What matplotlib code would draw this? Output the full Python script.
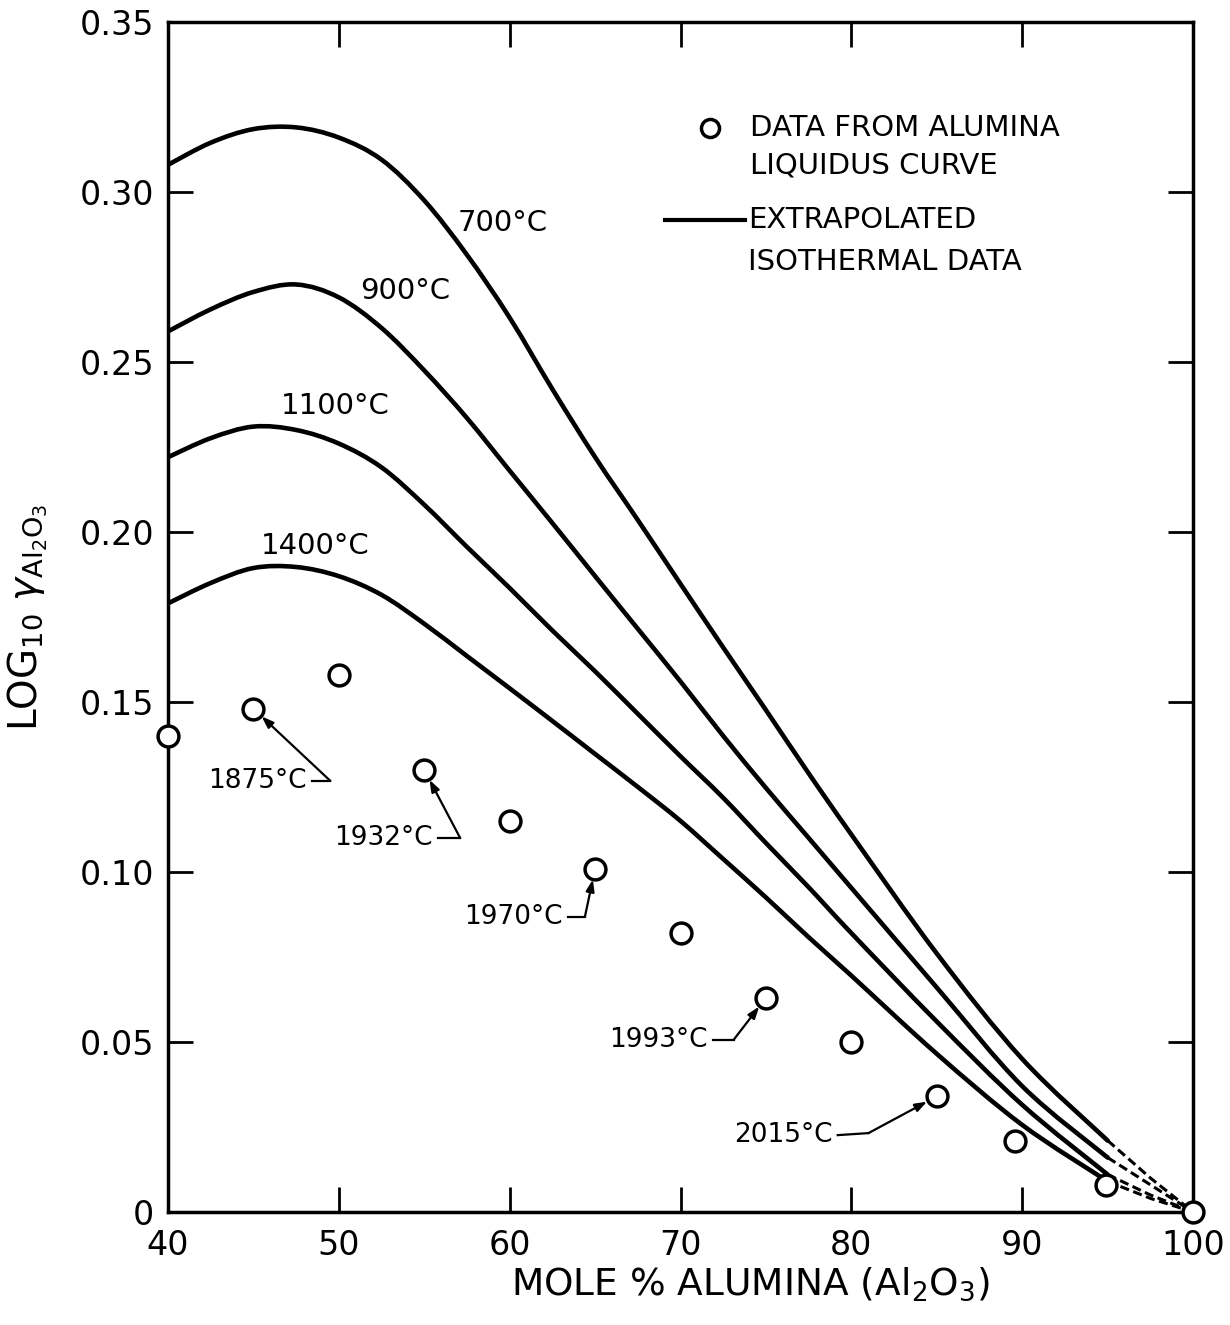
import matplotlib.pyplot as plt
from matplotlib.path import Path
from matplotlib.patches import PathPatch
import numpy as np

# mole % alumina grid for the isotherms
x_curve = [40, 42.5, 45, 47.5, 50, 52.5, 55, 57.5, 60, 62.5, 65, 67.5, 70,
           72.5, 75, 77.5, 80, 85, 90, 95, 97.5, 100]
y_700 = [0.308, 0.3145, 0.3185, 0.319, 0.316, 0.3095, 0.2975, 0.2815, 0.263,
         0.242, 0.222, 0.2035, 0.1847, 0.166, 0.1476, 0.129, 0.111, 0.076,
         0.045, 0.021, 0.010, 0.0]
y_900 = [0.259, 0.2655, 0.2706, 0.2728, 0.2690, 0.2600, 0.2475, 0.2335, 0.218,
         0.2026, 0.187, 0.1715, 0.156, 0.140, 0.1247, 0.110, 0.0953, 0.066,
         0.037, 0.016, 0.008, 0.0]
y_1100 = [0.222, 0.2276, 0.231, 0.230, 0.226, 0.219, 0.208, 0.1956, 0.1835,
          0.171, 0.159, 0.1465, 0.134, 0.1218, 0.1085, 0.0955, 0.082, 0.056,
          0.0315, 0.011, 0.005, 0.0]
y_1400 = [0.179, 0.185, 0.1894, 0.1897, 0.1870, 0.1815, 0.173, 0.1635, 0.154,
          0.1444, 0.1347, 0.125, 0.1150, 0.1038, 0.0925, 0.0808, 0.0695,
          0.0465, 0.0256, 0.009, 0.004, 0.0]
curve_names = ['700°C', '900°C', '1100°C', '1400°C']

# liquidus points
x_pts = [40, 45, 50, 55, 60, 65, 70, 75, 80, 85, 89.6, 94.9, 100]
y_pts = [0.140, 0.148, 0.158, 0.130, 0.115, 0.101, 0.082, 0.063, 0.050,
         0.034, 0.021, 0.008, 0.0]

# liquidus temperatures labelled with arrows (index into the points)
temp_labels = ['1875°C', '1932°C', '1970°C', '1993°C', '2015°C']
temp_idx = [1, 3, 5, 7, 9]


def smooth_path(xs, ys):
    # catmull-rom through the read points, drawn as cubic bezier segments
    p = np.column_stack([xs, ys]).astype(float)
    p_ext = np.vstack([p[0], p, p[-1]])
    verts = [p[0]]
    codes = [Path.MOVETO]
    for i in range(1, len(p_ext) - 2):
        p0, p1, p2, p3 = p_ext[i - 1], p_ext[i], p_ext[i + 1], p_ext[i + 2]
        verts += [p1 + (p2 - p0) / 6, p2 - (p3 - p1) / 6, p2]
        codes += [Path.CURVE4] * 3
    return Path(verts, codes)


plt.rcParams['font.family'] = 'DejaVu Sans'

fig = plt.figure(figsize=(12.3, 13.25), dpi=100)
ax = fig.add_axes([0.1366, 0.0853, 0.8334, 0.8981])

split = x_curve.index(95)
for ys in [y_700, y_900, y_1100, y_1400]:
    ax.add_patch(PathPatch(smooth_path(x_curve[:split + 1], ys[:split + 1]),
                           fc='none', ec='black', lw=3.3, capstyle='round',
                           joinstyle='round'))
    ax.plot(x_curve[split:], ys[split:], color='black', lw=2.2,
            ls=(0, (3, 1.5)), clip_on=False)

ax.plot(x_pts, y_pts, 'o', ms=15, mfc='white', mec='black', mew=2.5,
        clip_on=False, zorder=5)

# isotherm labels
curve_lab_pos = [(59.6, 0.291), (53.9, 0.271), (49.8, 0.237), (48.6, 0.196)]
for name, (tx, ty) in zip(curve_names, curve_lab_pos):
    ax.text(tx, ty, name, fontsize=21, ha='center', va='center')

# temperature labels with leader lines
text_end = [(48.1, 0.1268), (55.5, 0.110), (63.1, 0.0868), (71.6, 0.0506),
            (78.9, 0.0226)]
corners = [(49.5, 0.1268), (57.1, 0.110), (64.4, 0.0868), (73.1, 0.0506),
           (81.0, 0.0232)]
for lab, i, (tx, ty), (cx, cy) in zip(temp_labels, temp_idx, text_end, corners):
    ax.text(tx, ty, lab, fontsize=19, ha='right', va='center')
    ax.plot([tx + 0.3, cx], [ty, cy], color='black', lw=1.6)
    ax.annotate('', xy=(x_pts[i], y_pts[i]), xytext=(cx, cy),
                arrowprops=dict(arrowstyle='-|>,head_length=0.7,head_width=0.25',
                                color='black', lw=1.6, shrinkA=0, shrinkB=8))

# legend drawn by hand
ax.plot([0.529], [0.911], 'o', ms=13, mfc='white', mec='black', mew=2.5,
        transform=ax.transAxes)
ax.text(0.568, 0.911, 'DATA FROM ALUMINA', fontsize=21, va='center',
        transform=ax.transAxes)
ax.text(0.568, 0.879, 'LIQUIDUS CURVE', fontsize=21, va='center',
        transform=ax.transAxes)
ax.plot([0.485, 0.563], [0.834, 0.834], color='black', lw=3,
        transform=ax.transAxes)
ax.text(0.566, 0.834, 'EXTRAPOLATED', fontsize=21, va='center',
        transform=ax.transAxes)
ax.text(0.566, 0.798, 'ISOTHERMAL DATA', fontsize=21, va='center',
        transform=ax.transAxes)

ax.set_xlim(40, 100)
ax.set_ylim(0, 0.35)
ax.set_xticks([40, 50, 60, 70, 80, 90, 100])
ax.set_yticks([0, 0.05, 0.10, 0.15, 0.20, 0.25, 0.30, 0.35])
ax.set_yticklabels(['0', '0.05', '0.10', '0.15', '0.20', '0.25', '0.30', '0.35'])
ax.tick_params(direction='in', length=18, width=2, top=True, right=True)
ax.tick_params(axis='x', labelsize=24, pad=12)
ax.tick_params(axis='y', labelsize=24, pad=10)
for s in ax.spines.values():
    s.set_linewidth(2.5)

ax.set_xlabel(r'MOLE % ALUMINA (Al$_2$O$_3$)', fontsize=27)
ax.xaxis.set_label_coords(0.568, -0.045)
ax.set_ylabel(r'LOG$_{10}$ $\gamma_{\mathrm{Al_2O_3}}$', fontsize=28)
ax.yaxis.set_label_coords(-0.115, 0.5)

fig.savefig('out.png', dpi=100)
